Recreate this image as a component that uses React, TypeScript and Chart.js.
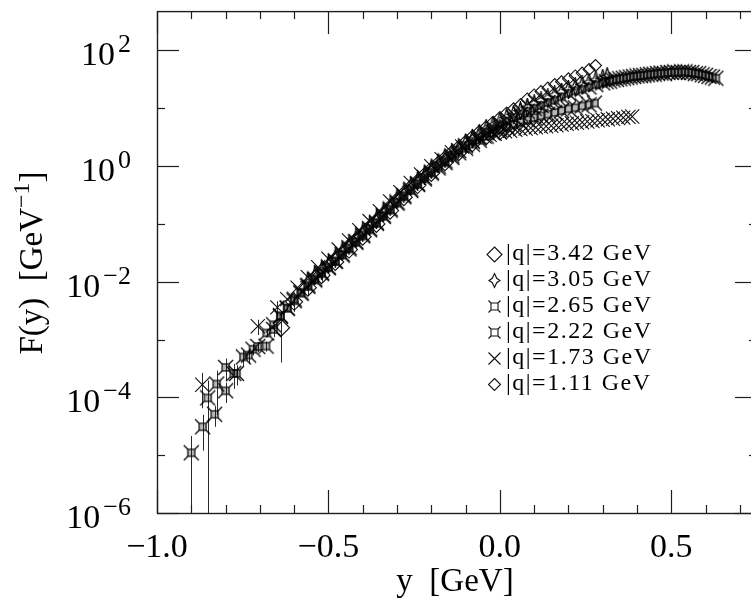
import React, { useEffect, useRef } from "react";
import { Chart, registerables } from "chart.js";

Chart.register(...registerables);

// ---------------- data ----------------
const LABELS = ["|q|=3.42 GeV", "|q|=3.05 GeV", "|q|=2.65 GeV", "|q|=2.22 GeV", "|q|=1.73 GeV", "|q|=1.11 GeV"];

const X_MAJOR = [-1.0, -0.5, 0.0, 0.5];
const X_MAJOR_LABELS = ["\u22121.0", "\u22120.5", "0.0", "0.5"];
const X_MINOR = [-0.9, -0.8, -0.7, -0.6, -0.4, -0.3, -0.2, -0.1, 0.1, 0.2, 0.3, 0.4, 0.6, 0.7];
const Y_MAJOR = [1e-6, 1e-4, 1e-2, 1, 1e2];
const Y_MAJOR_EXP = ["\u22126", "\u22124", "\u22122", "0", "2"];
const Y_MINOR = [1e-5, 1e-3, 1e-1, 1e1];

// |q| = 3.42 GeV (diamonds)
const X_342 = [-0.46, -0.44, -0.42, -0.40, -0.38, -0.36, -0.34, -0.32, -0.30, -0.28,
  -0.26, -0.24, -0.22, -0.20, -0.18, -0.16, -0.14, -0.12, -0.10, -0.08,
  -0.06, -0.04, -0.02, 0.00, 0.02, 0.04, 0.06, 0.08, 0.10, 0.12,
  0.14, 0.16, 0.18, 0.20, 0.22, 0.24, 0.26, 0.279];
const F_342 = [0.033, 0.0437, 0.056, 0.072, 0.093, 0.12, 0.158, 0.209, 0.275, 0.355,
  0.457, 0.575, 0.74, 0.93, 1.17, 1.45, 1.78, 2.19, 2.69, 3.3,
  4.0, 4.8, 5.75, 6.9, 8.3, 9.8, 11.5, 14.5, 17.0, 19.5,
  22.4, 25.7, 28.8, 32.4, 36.3, 40.7, 46.8, 55];

// |q| = 3.05 GeV (stars)
const X_305 = [-0.56, -0.54, -0.52, -0.50, -0.48, -0.46, -0.44, -0.42, -0.40, -0.38,
  -0.36, -0.34, -0.32, -0.30, -0.28, -0.26, -0.24, -0.22, -0.20, -0.18,
  -0.16, -0.14, -0.12, -0.10, -0.08, -0.06, -0.04, -0.02, 0.00, 0.02,
  0.04, 0.06, 0.08, 0.10, 0.12, 0.14, 0.16, 0.18, 0.20, 0.22,
  0.24, 0.26, 0.28, 0.30, 0.313];
const F_305 = [0.010, 0.0126, 0.0158, 0.020, 0.0257, 0.033, 0.0427, 0.055, 0.071, 0.091,
  0.117, 0.155, 0.20, 0.263, 0.34, 0.44, 0.55, 0.69, 0.87, 1.10,
  1.35, 1.66, 2.04, 2.51, 3.0, 3.6, 4.4, 5.1, 6.0, 6.9,
  7.9, 9.1, 10.5, 12.0, 13.5, 15.1, 17.0, 19.1, 21.4, 23.4,
  25.7, 28.2, 30.9, 33.1, 35.5];

// |q| = 2.65 GeV (squares, longest reach)
const X_265 = [-0.90, -0.852, -0.80, -0.768, -0.733, -0.706, -0.68,
  -0.66, -0.64, -0.62, -0.60, -0.58, -0.56, -0.54, -0.52, -0.50, -0.48,
  -0.46, -0.44, -0.42, -0.40, -0.38, -0.36, -0.34, -0.32, -0.30, -0.28,
  -0.26, -0.24, -0.22, -0.20, -0.18, -0.16, -0.14, -0.12, -0.10, -0.08,
  -0.06, -0.04, -0.02, 0.00, 0.02, 0.04, 0.06, 0.08, 0.10, 0.12,
  0.14, 0.16, 0.18, 0.20, 0.22, 0.24, 0.26, 0.28,
  0.30, 0.31, 0.32, 0.33, 0.34, 0.35, 0.36, 0.37, 0.38, 0.39,
  0.40, 0.41, 0.42, 0.43, 0.44, 0.45, 0.46, 0.47, 0.48, 0.49,
  0.50, 0.51, 0.52, 0.53, 0.54, 0.55, 0.56, 0.57, 0.58, 0.59,
  0.60, 0.61, 0.62, 0.63];
const F_265 = [1.1e-5, 9.8e-5, 1.3e-4, 2.6e-4, 5.4e-4, 7.6e-4, 1.3e-3,
  1.8e-3, 2.5e-3, 3.5e-3, 5.0e-3, 6.6e-3, 8.7e-3, 0.0112, 0.0145, 0.018, 0.023,
  0.030, 0.039, 0.050, 0.065, 0.083, 0.107, 0.141, 0.182, 0.24, 0.31,
  0.40, 0.50, 0.63, 0.79, 1.0, 1.23, 1.51, 1.86, 2.24, 2.7,
  3.2, 3.8, 4.5, 5.2, 6.0, 6.9, 7.9, 8.9, 10.0, 11.2,
  12.6, 13.8, 15.8, 18.2, 20.0, 21.4, 23.4, 25.7,
  27.5, 28.8, 29.5, 30.9, 31.6, 32.4, 33.1, 33.9, 34.7, 35.5,
  36.3, 36.7, 37.2, 38.0, 38.9, 38.9, 39.8, 40.7, 39.8, 41.7,
  41.7, 42.7, 41.7, 42.7, 42.7, 41.7, 41.7, 39.8, 39.8, 38.0,
  37.2, 35.5, 34.7, 33.1];
const E_265 = [1.05e-5, 9.8e-5, 5.0e-5, 1.0e-4, 1.5e-4, 1.5e-4, 2.0e-4];

// |q| = 2.22 GeV (squares)
const X_222 = [-0.867, -0.832, -0.826, -0.80, -0.776, -0.748, -0.72, -0.682,
  -0.66, -0.64, -0.62, -0.60, -0.58, -0.56, -0.54, -0.52, -0.50, -0.48,
  -0.46, -0.44, -0.42, -0.40, -0.38, -0.36, -0.34, -0.32, -0.30, -0.28,
  -0.26, -0.24, -0.22, -0.20, -0.18, -0.16, -0.14, -0.12, -0.10, -0.08,
  -0.06, -0.04, -0.02, 0.00, 0.02, 0.04, 0.06, 0.08, 0.10, 0.12,
  0.14, 0.16, 0.18, 0.20, 0.22, 0.24, 0.26, 0.276];
const F_222 = [3.1e-5, 5.1e-5, 1.7e-4, 3.3e-4, 2.6e-4, 5.0e-4, 6.8e-4, 7.7e-4,
  1.5e-3, 2.6e-3, 3.5e-3, 4.7e-3, 6.3e-3, 8.3e-3, 0.0107, 0.0138, 0.0174, 0.0224,
  0.029, 0.037, 0.048, 0.062, 0.079, 0.102, 0.135, 0.174, 0.229, 0.295,
  0.38, 0.48, 0.60, 0.76, 0.93, 1.15, 1.41, 1.70, 2.04, 2.4,
  2.8, 3.3, 3.8, 4.3, 4.8, 5.25, 5.75, 6.3, 6.9, 7.4,
  7.9, 8.5, 9.1, 9.8, 10.2, 11.0, 11.5, 12.3];
const E_222 = [1.9e-5, 2.0e-5, 1.2e-4, 1.4e-4, 1.2e-4, 1.5e-4, 1.5e-4, 1.5e-4, 4.0e-4];

// |q| = 1.73 GeV (crosses)
const X_173 = [-0.868, -0.706, -0.649, -0.62, -0.59, -0.56, -0.53, -0.50, -0.47, -0.44,
  -0.41, -0.38, -0.35, -0.32, -0.29, -0.26, -0.23, -0.20, -0.17, -0.14,
  -0.11, -0.08, -0.06, -0.045, -0.03, -0.015, 0.0, 0.015, 0.03, 0.045,
  0.06, 0.075, 0.09, 0.105, 0.12, 0.135, 0.15, 0.165, 0.18, 0.195,
  0.21, 0.225, 0.24, 0.255, 0.27, 0.285, 0.30, 0.315, 0.33, 0.345,
  0.36, 0.375, 0.386];
const F_173 = [1.65e-4, 1.7e-3, 3.6e-3, 5.0e-3, 7.9e-3, 0.012, 0.0178, 0.025, 0.036, 0.052,
  0.078, 0.112, 0.166, 0.245, 0.355, 0.51, 0.72, 1.0, 1.32, 1.74,
  2.19, 2.69, 3.0, 3.24, 3.47, 3.63, 3.8, 4.0, 4.07, 4.27,
  4.37, 4.47, 4.57, 4.68, 4.79, 4.9, 5.0, 5.1, 5.25, 5.37,
  5.5, 5.62, 5.75, 5.9, 6.0, 6.2, 6.3, 6.45, 6.6, 6.76,
  6.9, 7.1, 7.2];
const E_173 = [1.0e-4, 5.0e-4, 1.0e-3];

// |q| = 1.11 GeV (diamonds)
const X_111 = [-0.638, -0.60, -0.56, -0.52, -0.48, -0.44, -0.40, -0.36, -0.32, -0.28,
  -0.24, -0.20, -0.16, -0.12, -0.08, -0.04, 0.00, 0.02];
const F_111 = [1.6e-3, 4.5e-3, 7.9e-3, 0.013, 0.022, 0.036, 0.060, 0.10, 0.17, 0.29,
  0.47, 0.76, 1.17, 1.74, 2.5, 3.3, 4.0, 4.2];
const E_111 = [1.2e-3, 1.5e-3, 2.0e-3, 3.0e-3, 3.0e-3, 4.0e-3];

const SERIES = [
  { xs: X_342, fs: F_342, errs: [] as number[] },
  { xs: X_305, fs: F_305, errs: [] as number[] },
  { xs: X_265, fs: F_265, errs: E_265 },
  { xs: X_222, fs: F_222, errs: E_222 },
  { xs: X_173, fs: F_173, errs: E_173 },
  { xs: X_111, fs: F_111, errs: E_111 },
];

// ---------------- markers ----------------
const INK = "#000";
const SERIF = '"Liberation Serif", "DejaVu Serif", serif';

function makeSquareMarker(): HTMLCanvasElement {
  const c = document.createElement("canvas");
  c.width = 17; c.height = 17;
  const g = c.getContext("2d")!;
  g.strokeStyle = INK; g.lineWidth = 1.2;
  g.fillStyle = "rgba(0,0,0,0.28)";
  g.fillRect(5, 5, 7, 7);
  g.strokeRect(5, 5, 7, 7);
  g.beginPath();
  g.moveTo(5, 5); g.lineTo(1, 1);
  g.moveTo(12, 5); g.lineTo(16, 1);
  g.moveTo(5, 12); g.lineTo(1, 16);
  g.moveTo(12, 12); g.lineTo(16, 16);
  g.stroke();
  return c;
}

function makeStarMarker(): HTMLCanvasElement {
  const c = document.createElement("canvas");
  c.width = 15; c.height = 19;
  const g = c.getContext("2d")!;
  const cx = 7.5, cy = 9.5, i = 2;
  g.strokeStyle = INK; g.lineWidth = 1.2;
  g.beginPath();
  g.moveTo(cx, cy - 9);
  g.lineTo(cx + i, cy - i);
  g.lineTo(cx + 6.5, cy);
  g.lineTo(cx + i, cy + i);
  g.lineTo(cx, cy + 9);
  g.lineTo(cx - i, cy + i);
  g.lineTo(cx - 6.5, cy);
  g.lineTo(cx - i, cy - i);
  g.closePath();
  g.stroke();
  return c;
}

// ---------------- plugins ----------------
const errorBarPlugin = {
  id: "errbars",
  beforeDatasetsDraw(chart: any) {
    const { ctx, chartArea: a, scales } = chart;
    const xs = scales.x, ys = scales.y;
    ctx.save();
    ctx.beginPath();
    ctx.rect(a.left, a.top, a.right - a.left, a.bottom - a.top);
    ctx.clip();
    ctx.strokeStyle = "#2a2a2a";
    ctx.lineWidth = 1;
    for (const s of SERIES) {
      s.errs.forEach((e, i) => {
        if (!e) return;
        const px = Math.round(xs.getPixelForValue(s.xs[i])) + 0.5;
        const lo = s.fs[i] - e;
        const yTop = ys.getPixelForValue(s.fs[i] + e);
        const yBot = lo > 0 ? ys.getPixelForValue(lo) : a.bottom;
        ctx.beginPath();
        ctx.moveTo(px, yTop);
        ctx.lineTo(px, yBot);
        ctx.stroke();
      });
    }
    ctx.restore();
  },
};

function legendSymbol(ctx: CanvasRenderingContext2D, k: number, x: number, y: number) {
  ctx.save();
  ctx.strokeStyle = "#111";
  ctx.lineWidth = 1.1;
  ctx.beginPath();
  if (k === 0 || k === 5) {
    const r = k === 0 ? 7.5 : 6;
    ctx.moveTo(x, y - r); ctx.lineTo(x + r, y); ctx.lineTo(x, y + r); ctx.lineTo(x - r, y); ctx.closePath();
  } else if (k === 1) {
    const i = 2.2;
    ctx.moveTo(x, y - 7); ctx.lineTo(x + i, y - i); ctx.lineTo(x + 5.5, y);
    ctx.lineTo(x + i, y + i); ctx.lineTo(x, y + 7); ctx.lineTo(x - i, y + i);
    ctx.lineTo(x - 5.5, y); ctx.lineTo(x - i, y - i); ctx.closePath();
  } else if (k === 2 || k === 3) {
    ctx.rect(x - 3.5, y - 3.5, 7, 7);
    ctx.moveTo(x - 3.5, y - 3.5); ctx.lineTo(x - 6, y - 6);
    ctx.moveTo(x + 3.5, y - 3.5); ctx.lineTo(x + 6, y - 6);
    ctx.moveTo(x - 3.5, y + 3.5); ctx.lineTo(x - 6, y + 6);
    ctx.moveTo(x + 3.5, y + 3.5); ctx.lineTo(x + 6, y + 6);
  } else {
    ctx.moveTo(x - 6, y - 6); ctx.lineTo(x + 6, y + 6);
    ctx.moveTo(x + 6, y - 6); ctx.lineTo(x - 6, y + 6);
  }
  ctx.stroke();
  ctx.restore();
}

const framePlugin = {
  id: "frame",
  afterDraw(chart: any) {
    const { ctx, chartArea: a, scales } = chart;
    const xs = scales.x, ys = scales.y;
    ctx.save();
    ctx.strokeStyle = "#1e1e1e";
    ctx.lineWidth = 1.4;
    ctx.strokeRect(a.left + 0.5, a.top + 0.5, a.right - a.left, a.bottom - a.top);

    ctx.lineWidth = 1.2;
    const seg = (x1: number, y1: number, x2: number, y2: number) => {
      ctx.beginPath(); ctx.moveTo(x1, y1); ctx.lineTo(x2, y2); ctx.stroke();
    };
    for (const v of X_MAJOR) {
      const px = Math.round(xs.getPixelForValue(v)) + 0.5;
      seg(px, a.bottom, px, a.bottom - 23);
      seg(px, a.top, px, a.top + 23);
    }
    for (const v of X_MINOR) {
      const px = Math.round(xs.getPixelForValue(v)) + 0.5;
      seg(px, a.bottom, px, a.bottom - 8);
      seg(px, a.top, px, a.top + 8);
    }
    for (const v of Y_MAJOR) {
      const py = Math.round(ys.getPixelForValue(v)) + 0.5;
      seg(a.left, py, a.left + 22, py);
      seg(a.right, py, a.right - 22, py);
    }
    for (const v of Y_MINOR) {
      const py = Math.round(ys.getPixelForValue(v)) + 0.5;
      seg(a.left, py, a.left + 8, py);
      seg(a.right, py, a.right - 8, py);
    }

    ctx.fillStyle = "#000";
    // x tick labels
    ctx.font = `34px ${SERIF}`;
    ctx.textAlign = "center";
    ctx.textBaseline = "alphabetic";
    X_MAJOR.forEach((v, i) => {
      const px = xs.getPixelForValue(v);
      ctx.fillText(X_MAJOR_LABELS[i], px, 557);
    });
    // y tick labels 10^n
    Y_MAJOR.forEach((v, i) => {
      const py = ys.getPixelForValue(v);
      ctx.textAlign = "right";
      ctx.font = `26px ${SERIF}`;
      const ex = Y_MAJOR_EXP[i];
      ctx.fillText(ex, 131, py + 2);
      const w = ctx.measureText(ex).width;
      ctx.font = `34px ${SERIF}`;
      ctx.fillText("10", 131 - w - 3, py + 15);
    });
    // x title
    ctx.textAlign = "center";
    ctx.font = `33px ${SERIF}`;
    ctx.fillText("y  [GeV]", 455, 591);
    // y title (rotated)
    ctx.save();
    ctx.translate(42, 263);
    ctx.rotate(-Math.PI / 2);
    ctx.textAlign = "left";
    const t1 = "F(y)  [GeV", t2 = "\u22121", t3 = "]";
    ctx.font = `33px ${SERIF}`;
    const w1 = ctx.measureText(t1).width, w3 = ctx.measureText(t3).width;
    ctx.font = `24px ${SERIF}`;
    const w2 = ctx.measureText(t2).width;
    let x0 = -(w1 + w2 + w3) / 2;
    ctx.font = `33px ${SERIF}`;
    ctx.fillText(t1, x0, 0);
    x0 += w1;
    ctx.font = `24px ${SERIF}`;
    ctx.fillText(t2, x0, -13);
    x0 += w2;
    ctx.font = `33px ${SERIF}`;
    ctx.fillText(t3, x0, 0);
    ctx.restore();

    // legend
    ctx.textAlign = "left";
    ctx.font = `24px ${SERIF}`;
    try { (ctx as any).letterSpacing = "1.5px"; } catch (e) { /* ignore */ }
    LABELS.forEach((lab, k) => {
      const yc = 252 + 26 * k;
      legendSymbol(ctx, k, 494.5, yc + 2.5);
      ctx.fillStyle = "#000";
      ctx.fillText(lab, 506, yc + 8);
    });
    try { (ctx as any).letterSpacing = "0px"; } catch (e) { /* ignore */ }
    ctx.restore();
  },
};

export default function App() {
  const ref = useRef<HTMLCanvasElement>(null);
  useEffect(() => {
    const canvas = ref.current!;
    const sq = makeSquareMarker();
    const st = makeStarMarker();
    const styles: any[] = [
      { pointStyle: "rectRot", pointRadius: 6 },
      { pointStyle: st, pointRadius: 7 },
      { pointStyle: sq, pointRadius: 7 },
      { pointStyle: sq, pointRadius: 7 },
      { pointStyle: "crossRot", pointRadius: 10 },
      { pointStyle: "rectRot", pointRadius: 8.5 },
    ];
    const datasets = SERIES.map((s, k) => ({
      label: LABELS[k],
      data: s.xs.map((x, i) => ({ x, y: s.fs[i] })),
      showLine: false,
      borderColor: "#111",
      backgroundColor: "rgba(0,0,0,0)",
      borderWidth: 1.1,
      pointBorderWidth: 1.1,
      ...styles[k],
    }));
    const chart = new Chart(canvas, {
      type: "scatter",
      data: { datasets },
      options: {
        responsive: false,
        animation: false,
        devicePixelRatio: 1,
        events: [],
        layout: { padding: { left: 157, right: 18, top: 5, bottom: 90 } },
        plugins: { legend: { display: false }, tooltip: { enabled: false } },
        scales: {
          x: { type: "linear", min: -1, max: 0.75, display: false },
          y: { type: "logarithmic", min: 1e-6, max: 480, display: false },
        },
      } as any,
      plugins: [errorBarPlugin, framePlugin],
    });
    return () => chart.destroy();
  }, []);
  return (
    <div style={{ position: "fixed", left: 0, top: 0, width: 751, height: 603, overflow: "hidden", background: "#fff" }}>
      <canvas ref={ref} width={775} height={603} style={{ display: "block", width: 775, height: 603 }} />
    </div>
  );
}
